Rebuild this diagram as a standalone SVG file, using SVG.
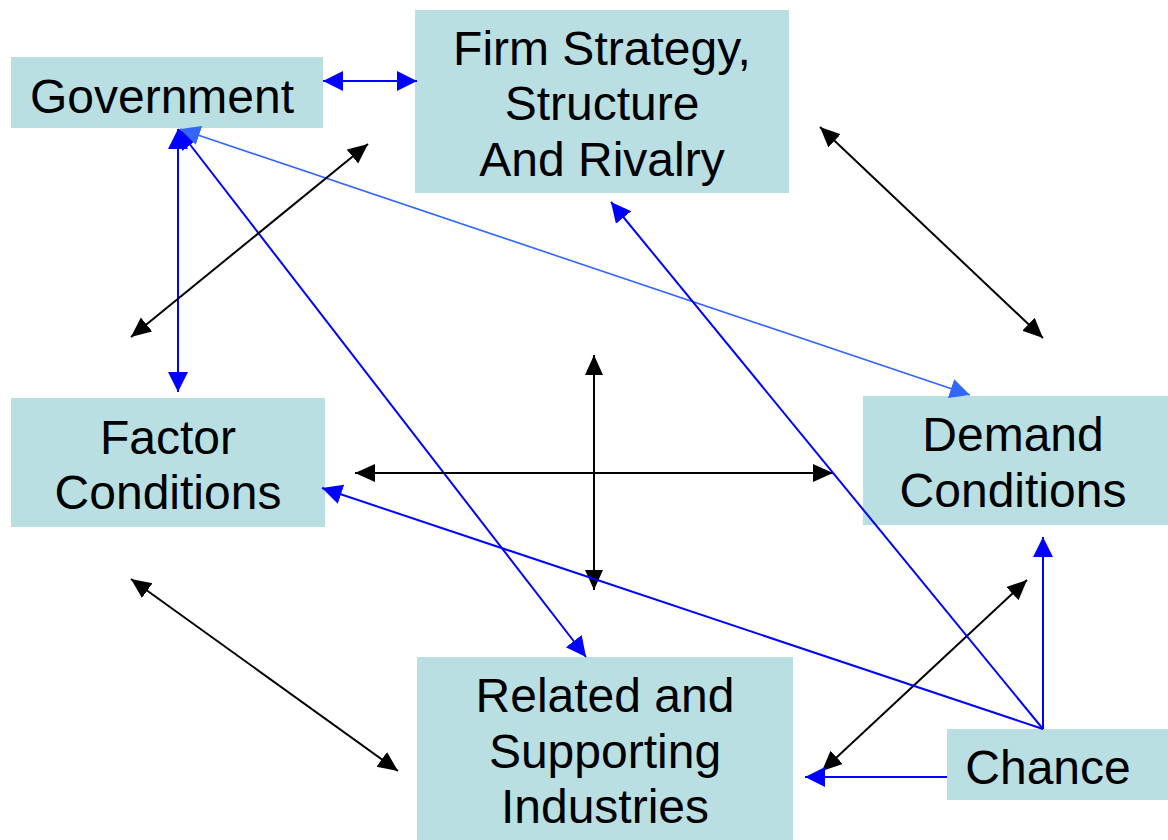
<svg xmlns="http://www.w3.org/2000/svg" width="1168" height="840" viewBox="0 0 1168 840">
  <style>
    .box { fill: #b9dfe2; }
    .label { font-family: "Liberation Sans", Arial, sans-serif; font-size: 48px; fill: #000; text-anchor: middle; }
    .blue { stroke: #0000ff; stroke-width: 2; fill: none; }
    .lblue { stroke: #3366ff; stroke-width: 1.6; fill: none; }
    .black { stroke: #000; stroke-width: 2; fill: none; }
  </style>
  <defs>
    <marker id="ahBlue" markerUnits="userSpaceOnUse" markerWidth="22" markerHeight="22" refX="20" refY="10" orient="auto-start-reverse" viewBox="0 0 22 22">
      <path d="M0,0 L20,10 L0,20 z" fill="#0000ff"/>
    </marker>
    <marker id="ahLBlue" markerUnits="userSpaceOnUse" markerWidth="22" markerHeight="22" refX="20" refY="10" orient="auto-start-reverse" viewBox="0 0 22 22">
      <path d="M0,0 L20,10 L0,20 z" fill="#3366ff"/>
    </marker>
    <marker id="ahBlack" markerUnits="userSpaceOnUse" markerWidth="22" markerHeight="22" refX="20" refY="9" orient="auto-start-reverse" viewBox="0 0 22 22">
      <path d="M0,0 L20,9 L0,18 z" fill="#000"/>
    </marker>
  </defs>

  <rect width="1168" height="840" fill="#fff"/>

  <g id="government">
    <rect class="box" x="11" y="57" width="312" height="71"/>
    <text class="label" x="162" y="113">Government</text>
  </g>
  <g id="firm-strategy">
    <rect class="box" x="415" y="10" width="374" height="183"/>
    <text class="label" x="602" y="65">Firm Strategy,</text>
    <text class="label" x="602" y="120">Structure</text>
    <text class="label" x="602" y="176">And Rivalry</text>
  </g>
  <g id="factor-conditions">
    <rect class="box" x="11" y="398" width="314" height="129"/>
    <text class="label" x="168" y="454">Factor</text>
    <text class="label" x="168" y="509">Conditions</text>
  </g>
  <g id="demand-conditions">
    <rect class="box" x="863" y="396" width="305" height="129"/>
    <text class="label" x="1013" y="451">Demand</text>
    <text class="label" x="1013" y="507">Conditions</text>
  </g>
  <g id="related-supporting">
    <rect class="box" x="417" y="657" width="376" height="183"/>
    <text class="label" x="605" y="712">Related and</text>
    <text class="label" x="605" y="768">Supporting</text>
    <text class="label" x="605" y="823">Industries</text>
  </g>
  <g id="chance">
    <rect class="box" x="947" y="729" width="221" height="71"/>
    <text class="label" x="1048" y="784">Chance</text>
  </g>

  <g id="connectors">
    <!-- government links -->
    <line class="blue" x1="323" y1="81" x2="417" y2="81" marker-start="url(#ahBlue)" marker-end="url(#ahBlue)"/>
    <line class="blue" x1="178" y1="129" x2="178" y2="392" marker-start="url(#ahBlue)" marker-end="url(#ahBlue)"/>
    <line class="blue" x1="178" y1="129" x2="586" y2="657" marker-start="url(#ahBlue)" marker-end="url(#ahBlue)"/>
    <line class="lblue" x1="180" y1="129" x2="970" y2="395" marker-start="url(#ahLBlue)" marker-end="url(#ahLBlue)"/>

    <!-- diamond links -->
    <line class="black" x1="131" y1="337" x2="368" y2="144" marker-start="url(#ahBlack)" marker-end="url(#ahBlack)"/>
    <line class="black" x1="820" y1="127" x2="1043" y2="338" marker-start="url(#ahBlack)" marker-end="url(#ahBlack)"/>
    <line class="black" x1="355" y1="473" x2="833" y2="473" marker-start="url(#ahBlack)" marker-end="url(#ahBlack)"/>
    <line class="black" x1="594" y1="355" x2="594" y2="590" marker-start="url(#ahBlack)" marker-end="url(#ahBlack)"/>
    <line class="black" x1="131" y1="579" x2="398" y2="771" marker-start="url(#ahBlack)" marker-end="url(#ahBlack)"/>
    <line class="black" x1="1027" y1="580" x2="822" y2="771" marker-start="url(#ahBlack)" marker-end="url(#ahBlack)"/>

    <!-- chance links -->
    <line class="blue" x1="1043" y1="729" x2="611" y2="202" marker-end="url(#ahBlue)"/>
    <line class="blue" x1="1043" y1="729" x2="322" y2="488" marker-end="url(#ahBlue)"/>
    <line class="blue" x1="1043" y1="729" x2="1043" y2="537" marker-end="url(#ahBlue)"/>
    <line class="blue" x1="947" y1="777" x2="805" y2="777" marker-end="url(#ahBlue)"/>
  </g>
</svg>
